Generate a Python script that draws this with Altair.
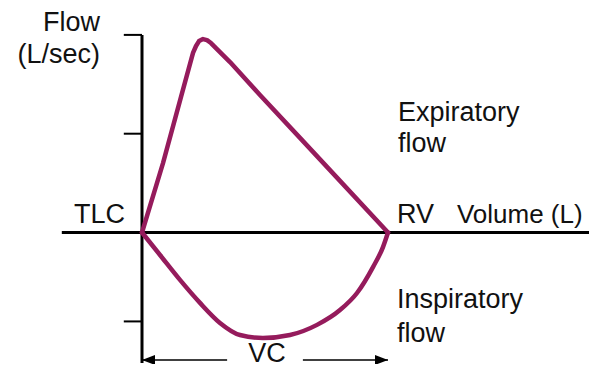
import altair as alt
import pandas as pd

# ---- data (volume in L from TLC, flow in L/s) ----
exp_volume = [0, 0.427, 0.793, 1.037, 1.098, 1.159, 1.240, 1.321, 1.402, 1.789, 2.398, 3.211, 4.024, 5.0]
exp_flow = [0, 2.81, 5.49, 7.27, 7.55, 7.75, 7.83, 7.79, 7.67, 6.90, 5.57, 3.83, 2.09, 0]

insp_volume = [0, 0.366, 0.772, 1.179, 1.585, 1.992, 2.459, 3.008, 3.557, 4.024, 4.370, 4.695, 4.898, 5.0]
insp_flow = [0, -0.91, -1.92, -2.85, -3.66, -4.15, -4.27, -4.15, -3.74, -3.14, -2.45, -1.40, -0.59, 0]

flow_ticks = [8, 4, -3.6]
vc_level = -5.16
vc_range = [0, 5.0]

label_text = ["Flow", "(L/sec)", "Expiratory", "flow", "RV", "Inspiratory", "flow"]
label_vol = [-0.854, -0.854, 5.203, 5.203, 5.183, 5.183, 5.183]
label_flow = [8.16, 6.86, 4.53, 3.26, 0.385, -3.06, -4.43]
label_align = ["right", "right", "left", "left", "left", "left", "left"]

LOOP = "#951B5C"
FONT = "Liberation Sans"
FS = 27

xs = alt.Scale(domain=[-2.7236, 9.0854], nice=False, zero=False)
ys = alt.Scale(domain=[-5.3239, 9.0891], nice=False, zero=False)

def X(f, **k):
    return alt.X(f, type="quantitative", scale=xs, axis=None, **k)

def Y(f, **k):
    return alt.Y(f, type="quantitative", scale=ys, axis=None, **k)

exp_df = pd.DataFrame({"v": exp_volume, "f": exp_flow, "o": range(len(exp_volume))})
insp_df = pd.DataFrame({"v": insp_volume, "f": insp_flow, "o": range(len(insp_volume))})

vaxis = alt.Chart(pd.DataFrame({"v": [0], "f1": [-5.28], "f2": [8.0]})).mark_rule(
    color="black", strokeWidth=3).encode(x=X("v"), y=Y("f1"), y2="f2")
haxis = alt.Chart(pd.DataFrame({"f": [0], "v1": [-1.63], "v2": [9.0854]})).mark_rule(
    color="black", strokeWidth=3).encode(y=Y("f"), x=X("v1"), x2="v2")
ticks = alt.Chart(pd.DataFrame({"f": flow_ticks, "v1": [-0.37] * 3, "v2": [0] * 3})).mark_rule(
    color="black", strokeWidth=2).encode(y=Y("f"), x=X("v1"), x2="v2")

exp_line = alt.Chart(exp_df).mark_line(
    color=LOOP, strokeWidth=4.5, strokeJoin="round", strokeCap="round").encode(
    x=X("v"), y=Y("f"), order="o:Q")
insp_line = alt.Chart(insp_df).mark_line(
    color=LOOP, strokeWidth=4.5, strokeJoin="round", strokeCap="round", interpolate="monotone").encode(
    x=X("v"), y=Y("f"), order="o:Q")

shafts = alt.Chart(pd.DataFrame({"f": [vc_level, vc_level], "v1": [vc_range[0], 3.27], "v2": [1.73, vc_range[1]]})).mark_rule(
    color="black", strokeWidth=1.6).encode(y=Y("f"), x=X("v1"), x2="v2")
head_l = alt.Chart(pd.DataFrame({"v": [vc_range[0]], "f": [vc_level]})).mark_point(
    shape="M0,0L1.3,-0.5L1.3,0.5Z", size=400, filled=True, color="black", opacity=1).encode(x=X("v"), y=Y("f"))
head_r = alt.Chart(pd.DataFrame({"v": [vc_range[1]], "f": [vc_level]})).mark_point(
    shape="M0,0L-1.3,-0.5L-1.3,0.5Z", size=400, filled=True, color="black", opacity=1).encode(x=X("v"), y=Y("f"))

lab_df = pd.DataFrame({"t": label_text, "v": label_vol, "f": label_flow, "a": label_align})
labels_left = alt.Chart(lab_df[lab_df.a == "left"]).mark_text(
    align="left", baseline="alphabetic", font=FONT, fontSize=FS, color="#111").encode(
    x=X("v"), y=Y("f"), text="t")
labels_right = alt.Chart(lab_df[lab_df.a == "right"]).mark_text(
    align="right", baseline="alphabetic", font=FONT, fontSize=FS, color="#111").encode(
    x=X("v"), y=Y("f"), text="t")
vol_label = alt.Chart(pd.DataFrame({"t": ["Volume (L)"], "v": [6.40], "f": [0.385]})).mark_text(
    align="left", baseline="alphabetic", font=FONT, fontSize=26, color="#111").encode(
    x=X("v"), y=Y("f"), text="t")
tlc = alt.Chart(pd.DataFrame({"t": ["TLC"], "v": [-0.346], "f": [0.385]})).mark_text(
    align="right", baseline="alphabetic", font=FONT, fontSize=FS, color="#111").encode(
    x=X("v"), y=Y("f"), text="t")
vc = alt.Chart(pd.DataFrame({"t": ["VC"], "v": [2.541], "f": [-5.26]})).mark_text(
    align="center", baseline="alphabetic", font=FONT, fontSize=FS, color="#111").encode(
    x=X("v"), y=Y("f"), text="t")

chart = alt.layer(vaxis, haxis, ticks, shafts, head_l, head_r, exp_line, insp_line,
                  labels_left, labels_right, vol_label, tlc, vc).properties(
    width=581, height=356, padding=0, autosize=alt.AutoSizeParams(type="none"),
    background="white").configure_view(stroke=None)

chart.save("out.html", embed_options={"renderer": "svg", "actions": False})
